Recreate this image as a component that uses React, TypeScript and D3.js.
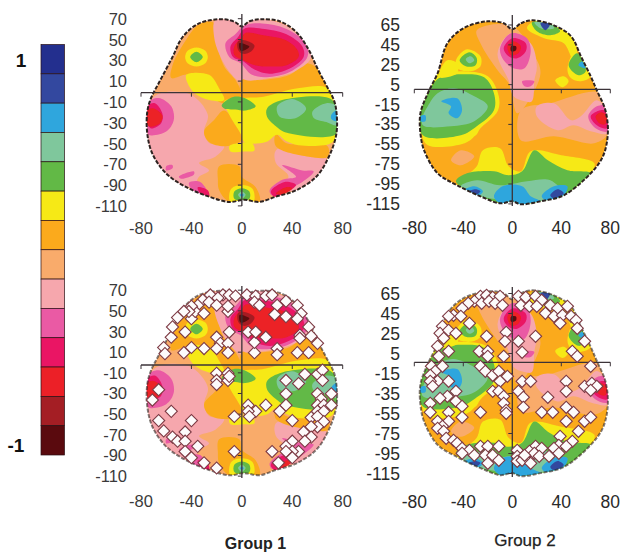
import React from "react";
import * as d3 from "d3";

type P = [number, number];
type Region = [number, P[]];

// colour levels, top (+1) to bottom (-1) of the colour bar
const levelColors = ["#232f8e", "#33489f", "#2fa6dd", "#7fc79c", "#62b946", "#f6e916", "#fbaa1c", "#f9ab6b", "#f6a7ad", "#ea5aa4", "#ea1564", "#ec2027", "#a41e24", "#5a0a0e"];

const xTicks = [-80, -40, 0, 40, 80];
const yTicksGroup1 = [70, 50, 30, 10, -10, -30, -50, -70, -90, -110];
const yTicksGroup2 = [65, 45, 25, 5, -15, -35, -55, -75, -95, -115];

const headGroup1: P[] = [[0,63],[6,68],[16,70],[30,68],[43,58],[53,41],[60,23],[67,7],[73,-7],[75,-18],[75,-39],[69,-61],[59,-80],[43,-93],[27,-99],[14,-104],[2,-102],[-10,-104],[-26,-99],[-44,-90],[-60,-77],[-71,-58],[-75,-39],[-75,-18],[-72,-5],[-66,9],[-55,34],[-47,53],[-34,66],[-15,70],[-5,67]];
const headGroup2: P[] = [[0,60],[7,66],[16,69],[34,64],[48,53],[56,33],[64,13],[69,-1],[76,-21],[78,-44],[74,-67],[64,-84],[42,-106],[23,-112],[7,-115],[0,-112],[-10,-114],[-26,-107],[-45,-96],[-61,-84],[-72,-61],[-75,-44],[-75,-24],[-69,-4],[-61,16],[-53,46],[-40,61],[-20,68],[-7,66]];

const regionsGroup1: Region[] = [
  [6, [[-55,26],[-46,47],[-34,65],[-23,67],[-20,47],[-14,25],[-5,12],[-1,2],[0,-7],[-15,-10],[-26,-2],[-42,17],[-56,14]]],
  [8, [[-21,69],[-1,66],[0,10],[-10,20],[-18,37],[-22,53]]],
  [6, [[0,12],[16,12],[38,17],[51,28],[60,23],[69,3],[72,-7],[48,-5],[16,-7],[0,-4]]],
  [8, [[0,69],[16,70],[35,64],[48,50],[55,34],[43,21],[22,14],[0,14]]],
  [9, [[-13,47],[-5,56],[2,64],[16,66],[35,61],[51,47],[52,34],[40,21],[22,15],[8,17],[-1,28],[-10,34]]],
  [10, [[-9,44],[-3,53],[2,61],[16,61],[35,56],[48,44],[49,34],[38,23],[22,18],[10,22],[1,30],[-7,34]]],
  [11, [[-6,44],[0,53],[3,57],[16,55],[35,50],[44,41],[45,34],[35,26],[22,25],[11,26],[1,31],[-6,36]]],
  [12, [[-3,49],[2,50],[10,45],[7,39],[1,37],[-3,41]]],
  [13, [[-2,47],[3,46],[6,44],[3,41],[-1,40]]],
  [5, [[-36,43],[-29,40],[-27,34],[-29,28],[-36,25],[-43,28],[-45,34],[-43,40]]],
  [4, [[-36,39],[-31,34],[-36,29],[-41,34]]],
  [8, [[-70,-4],[-42,-1],[-27,-21],[-30,-37],[-26,-48],[-14,-51],[-21,-61],[-34,-67],[-26,-74],[-34,-80],[-39,-90],[-60,-80],[-71,-61],[-75,-39]]],
  [8, [[27,-55],[43,-51],[67,-63],[59,-80],[43,-93],[24,-93],[37,-80],[27,-67]]],
  [9, [[32,-69],[48,-74],[57,-75],[48,-85],[40,-90],[24,-98],[22,-93],[32,-83],[43,-80]]],
  [10, [[23,-94],[34,-85],[43,-88],[34,-96],[26,-99]]],
  [11, [[27,-96],[35,-90],[40,-91],[32,-97]]],
  [9, [[-42,-86],[-33,-85],[-26,-99],[-37,-96]]],
  [10, [[-35,-90],[-27,-93],[-26,-99],[-33,-96]]],
  [9, [[-50,-80],[-38,-75],[-38,-78],[-48,-82]]],
  [9, [[-60,-70],[-55,-69],[-55,-72],[-60,-74]]],
  [6, [[-18,-70],[-2,-70],[0,-80],[11,-90],[14,-104],[-10,-104],[-18,-93],[-19,-83]]],
  [6, [[-14,-17],[-2,-36],[0,-45],[-13,-51],[-26,-47],[-30,-37],[-22,-26]]],
  [6, [[27,-39],[35,-48],[68,-51],[68,-61],[53,-61],[27,-51]]],
  [5, [[-44,17],[-26,17],[-18,4],[-14,-7],[-26,-7],[-37,-1],[-43,9]]],
  [5, [[43,4],[67,5],[72,-5],[75,-39],[71,-48],[45,-50],[35,-46],[28,-40],[19,-47],[2,-47],[-1,-39],[-10,-21],[-14,-8],[0,-5],[16,-4]]],
  [5, [[-10,-51],[-2,-48],[8,-48],[10,-55],[1,-56],[-9,-56]]],
  [4, [[20,-15],[32,-7],[69,-5],[75,-13],[75,-39],[35,-38],[27,-32],[20,-23]]],
  [4, [[-16,-12],[-7,-4],[2,-5],[11,-13],[3,-17],[-5,-16],[-14,-15]]],
  [3, [[28,-13],[40,-6],[51,-15],[43,-24],[30,-23]]],
  [3, [[56,-18],[67,-10],[75,-13],[75,-31],[67,-28],[57,-24]]],
  [2, [[71,-21],[75,-17],[75,-27],[71,-25]]],
  [9, [[-75,-10],[-66,-5],[-56,-13],[-54,-26],[-60,-37],[-74,-40],[-75,-32]]],
  [10, [[-75,-13],[-69,-10],[-63,-20],[-64,-29],[-72,-34],[-75,-29]]],
  [11, [[-75,-17],[-70,-15],[-63,-22],[-65,-29],[-74,-32]]],
  [5, [[0,-88],[8,-91],[10,-97],[9,-104],[-9,-104],[-10,-97],[-8,-91]]],
  [4, [[0,-91],[6,-94],[6,-101],[0,-103],[-6,-101],[-6,-94]]],
  [3, [[0,-94],[3,-97],[0,-101],[-3,-97]]],
  [2, [[0,-96],[1.5,-97.5],[0,-99],[-1.5,-97.5]]],
];

const regionsGroup2: Region[] = [
  [7, [[7,-21],[31,-14],[72,-4],[78,-44],[67,-54],[34,-47],[7,-51]]],
  [7, [[-29,59],[-1,64],[18,34],[23,16],[12,-14],[4,-24],[-1,-1],[-3,6],[-12,19],[-26,46]]],
  [8, [[-12,36],[-1,56],[15,46],[20,23],[18,9],[16,-12],[10,-12],[1,-7],[-3,9]]],
  [9, [[-10,41],[-1,56],[12,51],[15,38],[10,21],[1,21],[-7,29]]],
  [10, [[-7,41],[0,51],[11,46],[11,38],[4,31],[-3,33]]],
  [11, [[-4,43],[1,48],[7,43],[5,36],[-1,34]]],
  [13, [[-1,43],[3,43],[3,39],[-1,38]]],
  [9, [[8,8],[18,8],[15,3],[10,3]]],
  [8, [[20,-17],[34,-14],[48,-31],[56,-27],[69,-11],[78,-24],[78,-44],[64,-42],[50,-36],[37,-41],[20,-27]]],
  [9, [[62,-27],[69,-17],[78,-17],[78,-42],[68,-39]]],
  [10, [[64,-27],[72,-21],[77,-22],[77,-39],[69,-36]]],
  [11, [[68,-27],[73,-23],[77,-27],[76,-35],[71,-34]]],
  [5, [[-73,-46],[-31,-46],[-39,-54],[-69,-56]]],
  [5, [[-63,14],[-45,18],[-20,13],[-11,-7],[-12,-22],[-26,-39],[-31,-47],[-73,-47],[-75,-24],[-69,-4]]],
  [4, [[-60,11],[-42,15],[-23,12],[-15,-4],[-15,-21],[-29,-37],[-42,-46],[-73,-46],[-75,-24],[-69,-4]]],
  [3, [[-69,-17],[-61,-4],[-48,1],[-31,-7],[-20,-17],[-31,-32],[-50,-37],[-73,-36],[-73,-27]]],
  [2, [[-58,-12],[-45,-9],[-41,-21],[-45,-29],[-52,-24],[-50,-17]]],
  [2, [[-75,-27],[-71,-26],[-71,-32],[-75,-32]]],
  [7, [[-50,-71],[-42,-61],[-31,-67],[-42,-76]]],
  [5, [[-38,-87],[-29,-77],[-24,-61],[-10,-59],[-3,-77],[7,-82],[15,-62],[40,-66],[67,-74],[64,-84],[42,-106],[7,-115],[-45,-96]]],
  [4, [[-46,-92],[-37,-84],[-15,-82],[-3,-86],[8,-82],[18,-61],[29,-71],[45,-81],[64,-84],[42,-106],[7,-115],[-10,-114],[-26,-107]]],
  [3, [[-42,-97],[-29,-91],[-10,-96],[12,-92],[31,-91],[42,-106],[23,-112],[-26,-107]]],
  [2, [[-15,-107],[-8,-97],[8,-97],[15,-107],[23,-112],[7,-115],[-10,-114]]],
  [2, [[24,-107],[34,-97],[45,-97],[42,-106],[29,-112]]],
  [2, [[-39,-101],[-31,-97],[-24,-102],[-29,-107]]],
  [1, [[-35,-102],[-30,-100],[-26,-102],[-31,-106]]],
  [1, [[31,-106],[37,-100],[42,-104],[34,-109]]],
  [5, [[12,61],[18,68],[34,64],[48,53],[53,36],[50,29],[42,46],[26,51]]],
  [4, [[16,67],[34,64],[39,58],[31,54],[20,58]]],
  [3, [[18,67],[32,65],[34,61],[23,61]]],
  [1, [[23,66],[31,66],[27,59]]],
  [5, [[45,19],[50,36],[56,33],[64,13],[56,8],[48,11]]],
  [4, [[46,24],[53,36],[60,18],[54,14]]],
  [2, [[54,24],[57,28],[60,21]]],
  [5, [[35,9],[42,13],[46,8],[41,2]]],
  [5, [[-46,29],[-37,40],[-26,33],[-26,23],[-34,18],[-45,21]]],
  [5, [[-59,19],[-53,29],[-45,26],[-45,16],[-60,12]]],
  [4, [[-43,29],[-35,37],[-29,31],[-30,24],[-38,23]]],
  [3, [[-38,30],[-34,33],[-31,29],[-35,26]]],
];

const diamondsGroup1: P[] = [[-31,63],[-25,68],[-26,61],[-15,68],[-19,65],[-10,68],[-5,67],[4,68],[11,67],[19,67],[24,68],[35,62],[10,61],[14,58],[44,58],[28,58],[26,49],[35,47],[47,50],[44,45],[53,37],[46,29],[46,26],[55,28],[60,21],[53,12],[44,12],[28,16],[28,10],[10,12],[10,22],[19,27],[5,32],[11,32],[-10,32],[-20,27],[-17,21],[-11,21],[-20,16],[-11,12],[-30,16],[-40,17],[-46,12],[-62,17],[-61,11],[-56,27],[-55,37],[-45,32],[-51,46],[-40,45],[-35,58],[-37,52],[-30,50],[-40,57],[-20,58],[-11,52],[-11,57],[-42,52],[-46,52],[-20,-8],[-11,-8],[-20,-15],[-11,-15],[-20,-19],[-10,-11],[35,-15],[45,-18],[50,-9],[60,-9],[64,-5],[64,-15],[35,-28],[60,-28],[71,-28],[63,-33],[35,-39],[19,-39],[5,-39],[11,-45],[5,-45],[6,-50],[30,-45],[40,-54],[60,-39],[65,-39],[71,-39],[60,-45],[55,-51],[65,-45],[60,-50],[65,-55],[60,-60],[55,-60],[49,-65],[55,-70],[50,-74],[40,-74],[45,-84],[35,-79],[40,-84],[35,-84],[24,-84],[40,-90],[29,-95],[-66,-24],[-71,-34],[-56,-45],[-40,-54],[-66,-54],[-45,-65],[-62,-64],[-55,-70],[-51,-74],[-45,-74],[-35,-79],[-45,-84],[-40,-90],[-30,-95],[-20,-100],[-6,-50],[-6,-84]];

const diamondsGroup2: P[] = [[-26,66],[-21,67],[-16,65],[-10,66],[-31,61],[-25,59],[-19,61],[-14,59],[-8,57],[-36,59],[-41,54],[-48,47],[-42,46],[-52,46],[5,66],[11,65],[19,66],[24,62],[7,57],[14,56],[20,56],[31,57],[37,54],[45,56],[27,49],[34,46],[41,47],[48,46],[39,39],[52,42],[53,34],[59,21],[-57,36],[-59,29],[-52,32],[-46,29],[-56,24],[-61,16],[-52,11],[-60,6],[-35,39],[-21,26],[-5,30],[-6,21],[5,21],[19,26],[-27,11],[-20,11],[-20,6],[-7,6],[8,10],[49,11],[53,6],[64,-4],[-66,-4],[-57,-4],[-63,-9],[-67,-13],[-61,-19],[-67,-19],[-65,-24],[-52,-19],[-46,-29],[-53,-34],[-59,-36],[-46,-39],[-41,-44],[-67,-41],[-67,-50],[-52,-50],[-41,-55],[-26,-50],[-61,-59],[-52,-59],[-57,-64],[-61,-66],[-56,-69],[-54,-76],[-48,-78],[-45,-81],[-41,-86],[-35,-88],[-41,-91],[-31,-93],[-26,-84],[-20,-84],[-11,-84],[-22,-93],[-16,-93],[-11,-98],[-20,-101],[-26,-4],[-22,-9],[-16,-13],[-11,-9],[-10,-19],[-4,-14],[-16,-29],[-11,-29],[-7,-34],[-7,-41],[-5,-48],[-5,-51],[8,-19],[15,-19],[5,-29],[9,-35],[9,-45],[29,-35],[44,-19],[44,-29],[59,-24],[65,-21],[69,-24],[64,-28],[24,-50],[33,-50],[44,-45],[50,-50],[44,-59],[59,-59],[64,-55],[54,-69],[39,-74],[49,-79],[38,-83],[44,-84],[4,-88],[4,-94],[4,-99],[8,-98],[14,-94],[19,-84],[14,-89],[24,-86],[18,-91],[22,-94],[30,-94],[34,-86],[38,-91],[15,-101],[10,-93]];

const catmull = d3.line<P>().curve(d3.curveCatmullRomClosed.alpha(0.5));
const FONT = "'Liberation Sans', Arial, sans-serif";

type PanelProps = {
  id: string; xRange: [number, number]; mapY0: number; mapK: number; lineY: number;
  tickY0: number; tickK: number; yTicks: number[]; yLabelX: number; xLabelY: number; fontSize: number; textColor: string;
  axisTop: number; axisBottom: number; base: number; regions: Region[]; head: P[]; diamonds?: P[]; diamondK?: number;
};

function Panel(p: PanelProps) {
  const x = d3.scaleLinear().domain([-80, 80]).range(p.xRange);
  const yMap = d3.scaleLinear().domain([0, 100]).range([p.mapY0, p.mapY0 - 100 * p.mapK]);
  const yTick = d3.scaleLinear().domain([0, 100]).range([p.tickY0, p.tickY0 - 100 * p.tickK]);
  const yDiamond = d3.scaleLinear().domain([0, 100]).range([p.lineY, p.lineY - 100 * (p.diamondK || 1)]);
  const path = (pts: P[]) => catmull(pts.map(([a, b]) => [x(a), yMap(b)] as P)) || "";
  const headPath = path(p.head);
  const diamond = d3.symbol().type(d3.symbolSquare).size(74)();
  const axisColor = "#3b3338";
  return (
    <g>
      <clipPath id={p.id}><path d={headPath} /></clipPath>
      <g filter="url(#soft)">
        <g clipPath={`url(#${p.id})`}>
          <path d={headPath} fill={levelColors[p.base]} />
          {p.regions.map(([lv, pts], i) => <path key={i} d={path(pts)} fill={levelColors[lv]} />)}
        </g>
      </g>
      <path d={headPath} fill="none" stroke="#2e2420" strokeWidth={2} strokeDasharray="4 1.6" filter="url(#softer)" opacity={p.diamonds ? 0.6 : 1} />
      <line x1={x(-80)} x2={x(80)} y1={p.lineY} y2={p.lineY} stroke={axisColor} strokeWidth={1.3} />
      {xTicks.filter(t => t !== 0).map(t => (
        <line key={t} x1={x(t)} x2={x(t)} y1={p.lineY} y2={p.lineY + 4} stroke={axisColor} strokeWidth={1} />
      ))}
      <line x1={x(0)} x2={x(0)} y1={p.axisTop} y2={p.axisBottom} stroke={axisColor} strokeWidth={1.3} />
      {p.yTicks.map(t => (
        <line key={t} x1={x(0) - 4} x2={x(0)} y1={yTick(t)} y2={yTick(t)} stroke={axisColor} strokeWidth={1} />
      ))}
      {p.diamonds && (
        <g filter="url(#softer)">
          {p.diamonds.map(([a, b], i) => (
            <path key={i} d={diamond || ""} transform={`translate(${x(a)},${yDiamond(b)}) rotate(45)`} fill="#fdfbfb" stroke="#7d3a44" strokeWidth={1.1} />
          ))}
        </g>
      )}
      {p.yTicks.map(t => (
        <text key={t} x={p.yLabelX} y={yTick(t)} textAnchor="end" dominantBaseline="central" fontFamily={FONT} fontSize={p.fontSize} fill={p.textColor}>{t}</text>
      ))}
      {xTicks.map(t => (
        <text key={t} x={x(t)} y={p.xLabelY} textAnchor="middle" dominantBaseline="central" fontFamily={FONT} fontSize={p.fontSize} fill={p.textColor}>{t}</text>
      ))}
    </g>
  );
}

export default function App() {
  const barY = d3.scaleBand<number>().domain(levelColors.map((_, i) => i)).range([44.5, 455]);
  return (
    <svg width={623} height={552} style={{ position: "absolute", left: 0, top: 0, display: "block", background: "#fff" }}>
      <defs>
        <filter id="soft" x="-5%" y="-5%" width="110%" height="110%"><feGaussianBlur stdDeviation={0.7} /></filter>
        <filter id="softer" x="-5%" y="-5%" width="110%" height="110%"><feGaussianBlur stdDeviation={0.35} /></filter>
      </defs>
      {levelColors.map((c, i) => (
        <rect key={c} x={41} y={barY(i)} width={23.5} height={barY.bandwidth()} fill={c} stroke="#2a1014" strokeWidth={0.7} />
      ))}
      <text x={21} y={60} textAnchor="middle" dominantBaseline="central" fontFamily={FONT} fontWeight="bold" fontSize={19} fill="#111">1</text>
      <text x={16} y={445} textAnchor="middle" dominantBaseline="central" fontFamily={FONT} fontWeight="bold" fontSize={19} fill="#111">-1</text>

      <Panel id="p1" xRange={[141, 342.7]} mapY0={92.7} mapK={1.05} lineY={92.7} tickY0={91.5} tickK={1.04} yTicks={yTicksGroup1} yLabelX={127} xLabelY={228} fontSize={16.5} textColor="#3a3a3a" axisTop={14} axisBottom={206} base={7} regions={regionsGroup1} head={headGroup1} />
      <Panel id="p2" xRange={[414.3, 610.3]} mapY0={89.3} mapK={1} lineY={89.3} tickY0={89.6} tickK={0.994} yTicks={yTicksGroup2} yLabelX={400} xLabelY={228} fontSize={17.5} textColor="#2a2a2a" axisTop={15} axisBottom={206} base={6} regions={regionsGroup2} head={headGroup2} />
      <Panel id="p3" xRange={[141, 342.7]} mapY0={365} mapK={1.06} lineY={365} tickY0={362.5} tickK={1.033} yTicks={yTicksGroup1} yLabelX={127} xLabelY={501} fontSize={16.5} textColor="#3a3a3a" axisTop={286} axisBottom={478} base={7} regions={regionsGroup1} head={headGroup1} diamonds={diamondsGroup1} diamondK={1.03} />
      <Panel id="p4" xRange={[414.3, 610.3]} mapY0={360} mapK={1.01} lineY={362.3} tickY0={358.5} tickK={1.0} yTicks={yTicksGroup2} yLabelX={400} xLabelY={502} fontSize={17.5} textColor="#2a2a2a" axisTop={287} axisBottom={477} base={6} regions={regionsGroup2} head={headGroup2} diamonds={diamondsGroup2} diamondK={1} />

      <text x={255.5} y={543} textAnchor="middle" dominantBaseline="central" fontFamily={FONT} fontSize={16} fontWeight="bold" fill="#222">Group 1</text>
      <text x={525} y={540} textAnchor="middle" dominantBaseline="central" fontFamily={FONT} fontSize={17} fill="#222" stroke="#222" strokeWidth={0.25}>Group 2</text>
    </svg>
  );
}
